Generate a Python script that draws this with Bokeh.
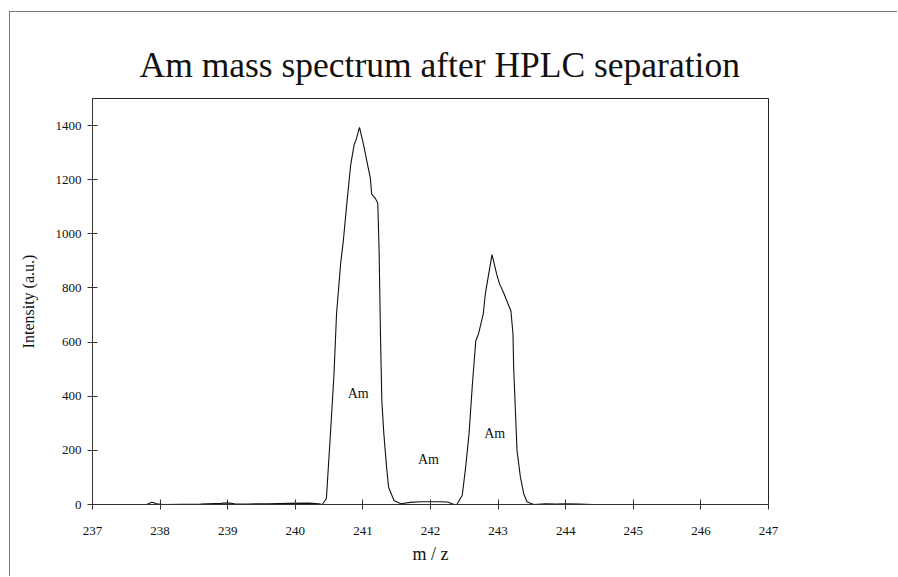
from bokeh.plotting import figure
from bokeh.models import Range1d, FixedTicker
from bokeh.core.properties import value
from bokeh.embed import file_html
from bokeh.resources import INLINE

# m/z values and intensities
mz = [237.0, 237.8, 237.88, 237.95, 238.05, 238.6, 238.9, 239.0, 239.1, 239.3,
      239.6, 239.9, 240.2, 240.35, 240.40, 240.46, 240.52, 240.57, 240.61, 240.67,
      240.71, 240.77, 240.82, 240.87, 240.90, 240.95, 241.01, 241.06, 241.11, 241.13,
      241.18, 241.22, 241.24, 241.26, 241.28, 241.31, 241.35, 241.38, 241.46, 241.56,
      241.70, 241.85, 242.0, 242.15, 242.25, 242.35, 242.39, 242.47, 242.52, 242.57,
      242.62, 242.67, 242.71, 242.78, 242.81, 242.86, 242.91, 242.98, 243.02, 243.08,
      243.13, 243.19, 243.22, 243.23, 243.26, 243.28, 243.33, 243.38, 243.43, 243.53,
      243.7, 243.85, 244.0, 244.2, 244.4, 245.0, 247.0]
intensity = [0, 0, 8, 3, 0, 2, 4, 6, 3, 2,
             3, 4, 5, 3, 0, 22, 262, 469, 704, 888,
             973, 1132, 1256, 1329, 1348, 1393, 1329, 1267, 1206, 1147,
             1132, 1114, 936, 629, 383, 261, 138, 64, 15, 3,
             8, 10, 10, 10, 9, 0, 0, 34, 138, 261,
             445, 605, 630, 703, 776, 850, 923, 850, 816, 783,
             752, 715, 630, 507, 322, 199, 101, 39, 9, 0,
             3, 2, 3, 2, 0, 0, 0]

x_ticks = [237, 238, 239, 240, 241, 242, 243, 244, 245, 246, 247]
y_ticks = [0, 200, 400, 600, 800, 1000, 1200, 1400]

label_x = [240.93, 241.97, 242.95]
label_y = [409, 166, 262]
label_text = ["Am", "Am", "Am"]

SERIF = "Liberation Serif"

p = figure(width=888, height=565, output_backend="svg", toolbar_location=None,
           x_range=Range1d(237, 247), y_range=Range1d(0, 1500),
           min_border_left=82, min_border_right=130, min_border_top=86,
           min_border_bottom=73)

p.title.text = "Am mass spectrum after HPLC separation"
p.title.text_font = SERIF
p.title.text_font_size = "35.5px"
p.title.text_font_style = "normal"
p.title.text_color = "#111111"
p.title.align = "left"
p.title.offset = 47
p.title.standoff = 27

p.line(mz, intensity, line_color="#111111", line_width=1.1)
p.text(x=label_x, y=label_y, text=label_text, text_font=value(SERIF),
       text_font_size="14px", text_align="center", text_baseline="middle",
       text_color="#111111")

p.xgrid.visible = False
p.ygrid.visible = False
p.outline_line_color = "#222222"
p.outline_line_width = 1

p.xaxis.ticker = FixedTicker(ticks=x_ticks)
p.yaxis.ticker = FixedTicker(ticks=y_ticks)
for ax in (p.xaxis[0], p.yaxis[0]):
    ax.minor_tick_line_color = None
    ax.major_tick_in = 5
    ax.major_tick_out = 5
    ax.axis_line_color = "#333333"
    ax.major_tick_line_color = "#333333"
    ax.major_label_text_font = SERIF
    ax.major_label_text_font_size = "13px"
    ax.major_label_text_color = "#111111"
    ax.axis_label_text_font = SERIF
    ax.axis_label_text_font_style = "normal"
    ax.axis_label_text_color = "#111111"

p.xaxis.axis_label = "m / z"
p.xaxis.axis_label_text_font_size = "18px"
p.xaxis.major_label_standoff = 17
p.xaxis.axis_label_standoff = 6
p.yaxis.axis_label = "Intensity (a.u.)"
p.yaxis.axis_label_text_font_size = "16px"
p.yaxis.major_label_standoff = 6
p.yaxis.axis_label_standoff = 16

p.styles = {"margin-left": "9px", "margin-top": "11px",
            "border-top": "1px solid #777777", "border-left": "1px solid #777777"}

open("out.html", "w").write(file_html(p, INLINE))
